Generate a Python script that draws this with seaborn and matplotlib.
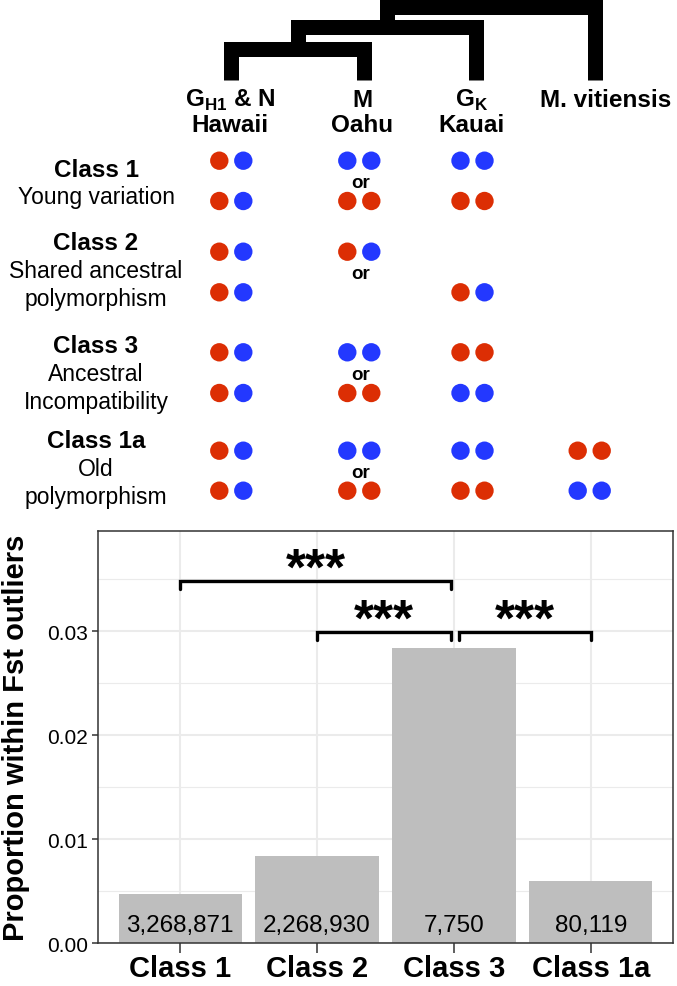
import numpy as np
import pandas as pd
import matplotlib.pyplot as plt
import seaborn as sns

# ---- bar chart data ----
classes = ['Class 1', 'Class 2', 'Class 3', 'Class 1a']
proportions = [0.00477, 0.0084, 0.02837, 0.00599]
n_sites = ['3,268,871', '2,268,930', '7,750', '80,119']

# significance brackets
comp_from = ['Class 1', 'Class 2', 'Class 3']
comp_to = ['Class 3', 'Class 3', 'Class 1a']
comp_label = ['***', '***', '***']
comp_y = [0.0348, 0.0299, 0.0299]

# ---- genotype diagram data ----
pop_names = [r'G$_\mathbf{H1}$ & N', 'M', r'G$_\mathbf{K}$', 'M. vitiensis']
pop_islands = ['Hawaii', 'Oahu', 'Kauai', '']
class_desc = [['Young variation'], ['Shared ancestral', 'polymorphism'],
              ['Ancestral', 'Incompatibility'], ['Old', 'polymorphism']]
# allele pair per population, upper and lower alternative ('R' red, 'B' blue)
geno_top = [['RB', 'BB', 'BB', ''], ['RB', 'RB', '', ''],
            ['RB', 'BB', 'RR', ''], ['RB', 'BB', 'BB', 'RR']]
geno_bottom = [['RB', 'RR', 'RR', ''], ['RB', '', 'RB', ''],
               ['RB', 'RR', 'BB', ''], ['RB', 'RR', 'RR', 'BB']]

red = '#dc2e04'
blue = '#2338ff'

sns.set_style('white')
plt.rcParams['font.family'] = ['Liberation Sans', 'DejaVu Sans']
plt.rcParams['mathtext.fontset'] = 'custom'
plt.rcParams['mathtext.rm'] = 'Liberation Sans'
plt.rcParams['mathtext.bf'] = 'Liberation Sans:bold'
for k in ['text.color', 'axes.labelcolor', 'xtick.labelcolor', 'ytick.labelcolor']:
    plt.rcParams[k] = 'black'

W, H = 677, 987
fig = plt.figure(figsize=(W / 100, H / 100), dpi=100)

# ---- top diagram (pixel coordinates) ----
top_h = 520
axd = fig.add_axes([0, 1 - top_h / H, 1, top_h / H])

# layout, pixels
tree_x = [231, 364, 476, 595]
label_x = [230, 362, 472, 606]
dot_x = [231.3, 359.3, 472.5, 589.7]
dot_y = [(161.7, 202), (252.7, 293.3), (353.3, 394), (451.7, 491.7)]
class_base = [176.7, 250, 353.3, 448]
leaf_y = 81
node_y = [49.7, 28.3, 7.5]

rows = []
for ci in range(len(classes)):
    for ri, geno in enumerate([geno_top[ci], geno_bottom[ci]]):
        for pi, g in enumerate(geno):
            for k, allele in enumerate(g):
                rows.append({'x': dot_x[pi] + (k - 0.5) * 24, 'y': dot_y[ci][ri], 'allele': allele})
dots = pd.DataFrame(rows)
sns.scatterplot(data=dots, x='x', y='y', hue='allele', palette={'R': red, 'B': blue},
                s=175, linewidth=0, legend=False, ax=axd)

# tree
lw = 15 * 72 / 100
def clade(xl, yl, xr, yr, yn):
    axd.plot([xl, xl, xr, xr], [yl, yn, yn, yr], color='black', lw=lw,
             solid_joinstyle='miter', solid_capstyle='butt')

xa = (tree_x[0] + tree_x[1]) / 2
xb = (xa + tree_x[2]) / 2
clade(tree_x[0], leaf_y, tree_x[1], leaf_y, node_y[0])
clade(xa, node_y[0], tree_x[2], leaf_y, node_y[1])
clade(xb, node_y[1], tree_x[3], leaf_y, node_y[2])

for i in range(4):
    axd.text(label_x[i], 107, pop_names[i], ha='center', va='baseline',
             fontsize=17.5, fontweight='bold')
    if pop_islands[i]:
        axd.text(label_x[i], 131.7, pop_islands[i], ha='center', va='baseline',
                 fontsize=17.5, fontweight='bold')

for ci in range(len(classes)):
    axd.text(96, class_base[ci], classes[ci], ha='center', va='baseline',
             fontsize=17.5, fontweight='bold')
    for li, line in enumerate(class_desc[ci]):
        axd.text(96, class_base[ci] + 27.8 * (li + 1), line, ha='center', va='baseline',
                 fontsize=16.5)
    mid = (dot_y[ci][0] + dot_y[ci][1]) / 2
    axd.text(361, mid + 6.5, 'or', ha='center', va='baseline', fontsize=13.5, fontweight='bold')

axd.set_xlim(0, W)
axd.set_ylim(top_h, 0)
axd.axis('off')

# ---- bar chart ----
ax = fig.add_axes([98 / W, (H - 944.3) / H, 575 / W, (944.3 - 532) / H])
sns.barplot(x=classes, y=proportions, color='#bebebe', saturation=1, width=0.9,
            linewidth=0, ax=ax)

ax.set_xlim(-0.6, 3.6)
ax.set_ylim(0, 0.03965)
ax.set_yticks([0, 0.01, 0.02, 0.03])
ax.set_yticklabels(['0.00', '0.01', '0.02', '0.03'])
ax.set_yticks([0.005, 0.015, 0.025, 0.035], minor=True)
ax.set_axisbelow(True)
ax.yaxis.grid(True, which='major', color='#ebebeb', lw=1.5)
ax.yaxis.grid(True, which='minor', color='#ebebeb', lw=0.8)
ax.xaxis.grid(True, which='major', color='#ebebeb', lw=1.5)
for s in ax.spines.values():
    s.set_visible(True)
    s.set_color('#333333')
    s.set_linewidth(1.1)
ax.tick_params(axis='y', which='major', length=4, width=1.1, color='#333333',
               labelsize=15, pad=3, left=True, labelcolor='black')
ax.tick_params(axis='y', which='minor', length=0)
ax.tick_params(axis='x', length=7.5, width=1.1, color='#333333', labelsize=21, pad=0,
               bottom=True, labelcolor='black')
for t in ax.get_xticklabels():
    t.set_fontweight('bold')
ax.set_xlabel('')
ax.set_ylabel('')

for i, t in enumerate(n_sites):
    ax.text(i, 0.00118, t, ha='center', va='baseline', fontsize=17.5, color='black')

pos = {c: i for i, c in enumerate(classes)}
for a, b, lab, y in zip(comp_from, comp_to, comp_label, comp_y):
    x0, x1 = pos[a], pos[b]
    if b == 'Class 3':
        x1 -= 0.023
    if a == 'Class 3':
        x0 += 0.035
    ax.plot([x0, x0, x1, x1], [y - 0.0007, y, y, y - 0.0007], color='black', lw=2.4,
            solid_joinstyle='miter', clip_on=False)
    ax.text((x0 + x1) / 2, y - 0.0002, lab, ha='center', va='baseline', fontsize=37,
            fontweight='bold', color='black')

fig.text(16 / W, 1 - 738 / H, 'Proportion within Fst outliers', rotation=90,
         ha='center', va='center', fontsize=21, fontweight='bold', color='black')

fig.savefig('out.png', dpi=100)
